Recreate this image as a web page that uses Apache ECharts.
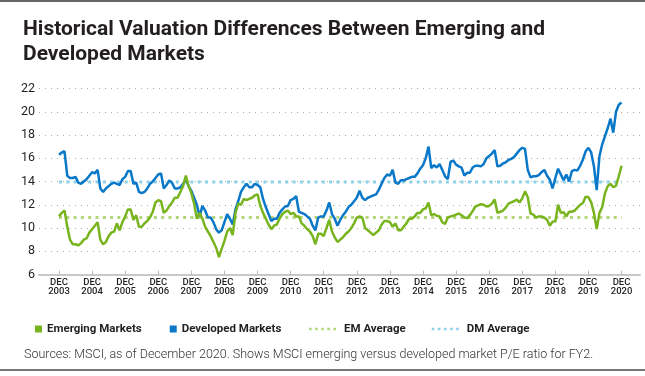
<!DOCTYPE html>
<html>
<head>
<meta charset="utf-8">
<script src="https://cdn.jsdelivr.net/npm/echarts@6/dist/echarts.min.js"></script>
<style>
  html, body { margin: 0; padding: 0; background: #fff; }
  #chart { width: 645px; height: 376px; }
</style>
</head>
<body>
<div id="chart"></div>
<script>
// tick labels, one per December
var yearLabels = ['2003', '2004', '2005', '2006', '2007', '2008', '2009', '2010', '2011',
  '2012', '2013', '2014', '2015', '2016', '2017', '2018', '2019', '2020']

// monthly forward P/E, Dec 2003 .. Dec 2020
var emValues = [
  11.0, 11.3, 11.5, 10.1, 9.0, 8.6, 8.6, 8.5, 8.7, 9.0,
  9.1, 9.6, 9.9, 10.2, 10.5, 9.0, 8.6, 8.8, 9.3, 9.6,
  9.7, 10.4, 9.8, 10.5, 11.0, 11.6, 11.6, 10.7, 11.1, 10.1,
  10.1, 10.4, 10.6, 10.9, 11.4, 12.2, 12.4, 12.3, 11.3, 11.5,
  11.9, 12.2, 12.6, 12.6, 13.1, 13.6, 14.5, 13.6, 13.0, 12.1,
  10.8, 11.3, 10.8, 10.1, 9.7, 9.3, 8.8, 8.3, 7.5, 8.2,
  8.9, 9.7, 10.0, 9.4, 11.3, 12.1, 12.0, 12.5, 12.4, 12.5,
  12.6, 12.8, 12.9, 11.9, 11.3, 10.8, 10.3, 9.9, 10.2, 10.3,
  10.8, 11.2, 11.4, 11.5, 11.2, 11.3, 11.0, 11.0, 10.4, 10.2,
  9.9, 9.7, 9.3, 8.6, 9.5, 9.5, 9.3, 10.0, 10.7, 9.7,
  9.2, 8.8, 9.0, 9.2, 9.5, 9.7, 10.0, 10.4, 10.9, 11.0,
  10.9, 10.0, 9.8, 9.6, 9.4, 9.6, 9.8, 10.3, 10.6, 10.6,
  10.5, 10.1, 10.4, 9.8, 9.8, 10.1, 10.4, 10.8, 10.8, 11.0,
  11.3, 11.3, 11.6, 11.7, 12.2, 11.1, 11.2, 11.05, 11.0, 10.5,
  10.35, 10.9, 11.0, 11.05, 11.15, 11.25, 11.1, 10.9, 10.85, 11.1,
  11.45, 11.85, 11.95, 12.05, 12.0, 11.85, 11.9, 12.1, 12.45, 11.3,
  11.4, 11.5, 11.75, 12.1, 12.2, 12.3, 12.45, 12.2, 12.55, 13.15,
  12.65, 11.25, 11.15, 10.9, 11.0, 11.0, 10.9, 10.7, 10.2, 10.55,
  10.55, 12.0, 11.3, 11.35, 11.0, 11.4, 11.4, 11.5, 11.75, 12.0,
  12.15, 12.7, 12.65, 12.2, 11.3, 9.9, 11.3, 11.8, 13.0, 13.6,
  13.8, 13.5, 13.65, 14.45, 15.35
]
var dmValues = [
  16.3, 16.5, 16.6, 14.5, 14.3, 14.3, 14.4, 13.9, 13.8, 14.0,
  14.2, 14.5, 14.8, 14.7, 15.0, 13.4, 13.1, 13.4, 13.6, 13.8,
  13.9, 13.8, 13.7, 14.2, 14.4, 14.9, 14.9, 13.8, 13.9, 13.1,
  13.0, 13.1, 13.4, 13.8, 14.0, 14.3, 14.6, 14.7, 13.4, 13.7,
  14.1, 13.9, 13.4, 13.4, 13.5, 13.8, 14.2, 13.6, 13.2, 12.6,
  12.0, 11.0, 11.9, 11.5, 10.9, 10.9, 10.5, 9.9, 9.6, 9.8,
  10.5, 11.2, 10.8, 10.3, 11.6, 12.3, 13.1, 13.5, 13.8, 13.5,
  13.5, 13.8, 13.7, 13.5, 12.5, 11.8, 11.2, 10.6, 10.8, 10.8,
  11.3, 11.6, 11.85, 11.9, 12.4, 12.5, 12.75, 11.4, 11.3, 11.2,
  11.0, 10.8, 10.2, 9.8, 10.9, 11.0, 11.0, 11.5, 12.2, 11.2,
  10.8, 10.2, 10.7, 11.1, 11.4, 11.8, 12.0, 12.3, 12.6, 13.2,
  12.6, 12.4, 12.6, 12.7, 12.8, 12.9, 13.3, 13.8, 14.3, 14.6,
  14.5, 15.0, 13.9, 13.8, 14.1, 14.1, 14.2, 14.3, 14.4, 14.4,
  14.7, 15.1, 15.4, 16.0, 17.0, 15.15, 15.4, 15.2, 15.5, 15.0,
  14.45, 14.2, 15.7, 15.8, 15.45, 15.3, 15.2, 14.5, 14.75, 14.75,
  15.2, 15.35, 15.35, 15.3, 15.5, 16.0, 16.2, 16.4, 16.7, 15.3,
  15.35, 15.55, 15.65, 15.85, 15.95, 16.1, 16.4, 16.7, 16.9, 16.8,
  15.0, 14.35, 14.45, 14.45, 14.55, 14.8, 15.0, 14.5, 14.15, 13.4,
  14.3, 15.1, 14.6, 14.1, 14.6, 14.0, 14.9, 15.0, 14.95, 15.35,
  15.9, 16.6, 16.9, 16.5, 15.3, 13.25, 16.2, 17.2, 17.9, 18.6,
  19.4, 18.2, 20.0, 20.6, 20.8
]
var emAverage = 10.9
var dmAverage = 13.95

var titleText = 'Historical Valuation Differences Between Emerging and\nDeveloped Markets'
var sourceText = 'Sources: MSCI, as of December 2020. Shows MSCI emerging versus developed market P/E ratio for FY2.'

var colors = {
  em: '#78b41e',
  dm: '#0a78c8',
  emAvg: '#b4d67a',
  dmAvg: '#8dd0ea'
}

var lastMonth = emValues.length - 1
var tickMonths = yearLabels.map(function (y, i) { return i * 12 })
var dotsIcon = 'path://M0,0h3v3h-3zM7,0h3v3h-3zM14,0h3v3h-3zM21,0h3v3h-3zM28,0h3v3h-3z'

var chart = echarts.init(document.getElementById('chart'), null, { renderer: 'canvas' })

var option = {
  animation: false,
  backgroundColor: '#fff',
  title: [
    {
      text: titleText,
      left: 18,
      top: 12,
      textStyle: {
        fontFamily: 'Roboto',
        fontSize: 21,
        fontWeight: 'bold',
        lineHeight: 25,
        color: '#231f20'
      }
    },
    {
      text: sourceText,
      left: 19,
      top: 343,
      textStyle: {
        fontFamily: 'Roboto',
        fontSize: 12.5,
        fontWeight: 300,
        color: '#333'
      }
    }
  ],
  graphic: [
    { type: 'rect', shape: { x: 0, y: 0, width: 645, height: 2 }, style: { fill: '#666' } },
    { type: 'rect', shape: { x: 0, y: 369, width: 645, height: 2 }, style: { fill: '#777' } }
  ],
  legend: [
    {
      data: ['Emerging Markets', 'Developed Markets'],
      left: 30,
      top: 318,
      icon: 'rect',
      itemWidth: 7,
      itemHeight: 7,
      itemGap: 28,
      textStyle: { fontFamily: 'Roboto', fontSize: 11.5, fontWeight: 'bold', color: '#231f20' }
    },
    {
      data: ['EM Average', 'DM Average'],
      left: 304,
      top: 318,
      icon: dotsIcon,
      itemWidth: 27,
      itemHeight: 3,
      itemGap: 26,
      textStyle: { fontFamily: 'Roboto', fontSize: 11.5, fontWeight: 'bold', color: '#231f20', padding: [0, 0, 0, 3] }
    }
  ],
  grid: {
    left: 39,
    right: 5,
    top: 88.5,
    bottom: 101.5,
    outerBoundsMode: 'none'
  },
  xAxis: {
    type: 'value',
    min: -7.25,
    max: 210.7,
    splitLine: { show: false },
    axisLine: { show: true, lineStyle: { color: '#c8c8c8', width: 2 } },
    axisTick: {
      show: true,
      inside: true,
      length: 4,
      customValues: tickMonths,
      lineStyle: { color: '#bbb', width: 1 }
    },
    axisLabel: {
      customValues: tickMonths,
      margin: 4,
      fontFamily: 'Roboto',
      fontSize: 9.5,
      fontWeight: 500,
      lineHeight: 9,
      color: '#231f20',
      formatter: function (v) {
        return 'DEC\n' + yearLabels[Math.round(v / 12)]
      }
    }
  },
  yAxis: {
    type: 'value',
    min: 6,
    max: 22,
    interval: 2,
    axisLine: { show: false },
    axisTick: { show: false },
    axisLabel: {
      margin: 4,
      fontFamily: 'Roboto',
      fontSize: 12.5,
      color: '#231f20'
    },
    splitLine: {
      show: true,
      lineStyle: { color: '#aaa', width: 1, type: [1, 5] }
    }
  },
  series: [
    {
      name: 'EM Average',
      type: 'line',
      symbol: 'none',
      color: colors.emAvg,
      lineStyle: { color: colors.emAvg, width: 3, type: [3, 4.3] },
      data: [[0, emAverage], [lastMonth, emAverage]],
      z: 1
    },
    {
      name: 'DM Average',
      type: 'line',
      symbol: 'none',
      color: colors.dmAvg,
      lineStyle: { color: colors.dmAvg, width: 3, type: [3, 4.3] },
      data: [[0, dmAverage], [lastMonth, dmAverage]],
      z: 1
    },
    {
      name: 'Emerging Markets',
      type: 'line',
      symbol: 'none',
      color: colors.em,
      lineStyle: { color: colors.em, width: 2.5 },
      data: emValues.map(function (v, i) { return [i, v] }),
      z: 3
    },
    {
      name: 'Developed Markets',
      type: 'line',
      symbol: 'none',
      color: colors.dm,
      lineStyle: { color: colors.dm, width: 2.5 },
      data: dmValues.map(function (v, i) { return [i, v] }),
      z: 2
    }
  ]
}

chart.setOption(option)
</script>
</body>
</html>
